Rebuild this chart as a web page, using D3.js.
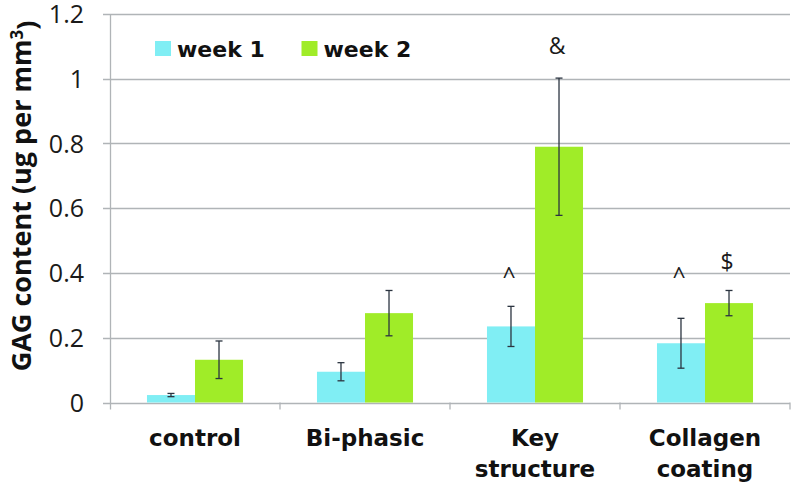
<!DOCTYPE html>
<html><head><meta charset="utf-8">
<script src="https://cdn.jsdelivr.net/npm/d3@7"></script>
<style>body{margin:0;background:#fff}svg{display:block}</style>
</head><body>
<script>
const categories = [["control"], ["Bi-phasic"], ["Key", "structure"], ["Collagen", "coating"]];
const seriesNames = ["week 1", "week 2"];
const week1 = [0.023, 0.095, 0.235, 0.183];
const week1Err = [0.005, 0.028, 0.062, 0.077];
const week2 = [0.132, 0.276, 0.790, 0.307];
const week2Err = [0.058, 0.070, 0.212, 0.039];
const yTicks = [0, 0.2, 0.4, 0.6, 0.8, 1, 1.2];
const annotations = [
  {cat: 2, s: 0, label: "^", v: 0.365},
  {cat: 2, s: 1, label: "&", v: 1.075},
  {cat: 3, s: 0, label: "^", v: 0.365},
  {cat: 3, s: 1, label: "$", v: 0.408}
];
const colors = ["#80EEF4", "#A0EC28"];

const W = 792, H = 487;
const svg = d3.select("body").append("svg").attr("width", W).attr("height", H);
const m = {left: 110, right: 790, top: 14, bottom: 402.5};
const x = d3.scaleBand().domain(d3.range(categories.length)).range([m.left, m.right]).paddingInner(0).paddingOuter(0);
const xs = d3.scaleBand().domain([0, 1]).range([0, x.bandwidth()]).paddingInner(0).paddingOuter(0.77);
const y = d3.scaleLinear().domain([0, 1.2]).range([m.bottom, m.top]);

const grid = "#b0b4b7";
svg.append("g").selectAll("line").data(yTicks).join("line")
  .attr("x1", m.left - 7).attr("x2", m.right)
  .attr("y1", d => Math.round(y(d)) + 0.5).attr("y2", d => Math.round(y(d)) + 0.5)
  .attr("stroke", grid).attr("stroke-width", 1.3);
svg.append("g").selectAll("text").data(yTicks).join("text")
  .attr("x", 84).attr("y", d => y(d)).attr("dy", "0.36em")
  .attr("text-anchor", "end")
  .style("font-family", "'Open Sans', sans-serif").style("font-size", "25px").attr("fill", "#1a1a1a")
  .text(d => d3.format("")(d));
svg.append("line").attr("x1", m.left + 0.5).attr("x2", m.left + 0.5).attr("y1", m.top).attr("y2", m.bottom + 7)
  .attr("stroke", grid).attr("stroke-width", 1.3);
svg.append("g").selectAll("line").data(d3.range(1, categories.length + 1)).join("line")
  .attr("x1", d => m.left + d * x.step()).attr("x2", d => m.left + d * x.step())
  .attr("y1", m.bottom).attr("y2", m.bottom + 7).attr("stroke", grid).attr("stroke-width", 1.3);

const data = [];
categories.forEach((c, i) => {
  data.push({cat: i, s: 0, v: week1[i], e: week1Err[i]});
  data.push({cat: i, s: 1, v: week2[i], e: week2Err[i]});
});
const bx = d => x(d.cat) + xs(d.s);
svg.append("g").selectAll("rect").data(data).join("rect")
  .attr("x", bx).attr("width", xs.bandwidth())
  .attr("y", d => y(d.v)).attr("height", d => y(0) - y(d.v))
  .attr("fill", d => colors[d.s]);
const eg = svg.append("g").attr("stroke", "#2b3440").attr("stroke-width", 1.3);
data.forEach(d => {
  const cx = bx(d) + xs.bandwidth() / 2;
  eg.append("line").attr("x1", cx).attr("x2", cx).attr("y1", y(d.v + d.e)).attr("y2", y(d.v - d.e));
  [d.v + d.e, d.v - d.e].forEach(v => eg.append("line").attr("x1", cx - 3.5).attr("x2", cx + 3.5).attr("y1", y(v)).attr("y2", y(v)));
});
svg.append("g").selectAll("text").data(annotations).join("text")
  .attr("x", d => x(d.cat) + xs(d.s) + xs.bandwidth() / 2 - 2).attr("y", d => y(d.v))
  .attr("text-anchor", "middle")
  .style("font-family", "'Open Sans', sans-serif").style("font-size", "23px").attr("fill", "#1a1a1a")
  .text(d => d.label);
const cl = svg.append("g").style("font-family", "'DejaVu Sans', sans-serif").style("font-size", "23px").style("font-weight", "bold").attr("fill", "#111");
categories.forEach((c, i) => {
  c.forEach((line, j) => {
    cl.append("text").attr("x", x(i) + x.bandwidth() / 2).attr("y", 445.5 + j * 31.5)
      .attr("text-anchor", "middle").text(line);
  });
});
const yt = svg.append("text").attr("transform", "translate(31,196) rotate(-90)")
  .attr("text-anchor", "middle")
  .style("font-family", "'Open Sans', sans-serif").style("font-size", "27px").style("font-weight", "bold").attr("fill", "#111");
yt.append("tspan").text("GAG content (ug per mm");
yt.append("tspan").attr("dy", "-0.5em").style("font-size", "17px").text("3");
yt.append("tspan").attr("dy", "0.5em").text(")");
const lg = svg.append("g");
const legX = [155, 301.5];
seriesNames.forEach((n, i) => {
  lg.append("rect").attr("x", legX[i]).attr("y", 41).attr("width", 16).attr("height", 15).attr("fill", colors[i]);
  lg.append("text").attr("x", legX[i] + 22).attr("y", 56.5)
    .style("font-family", "'DejaVu Sans', sans-serif").style("font-size", "22px").style("font-weight", "bold").attr("fill", "#111")
    .text(n);
});
</script>
</body></html>
